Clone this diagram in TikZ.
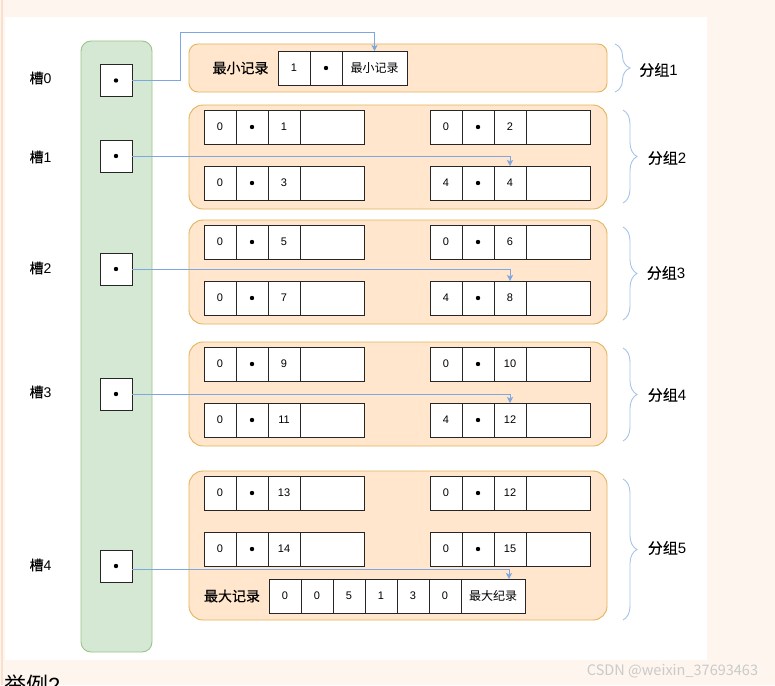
\documentclass[tikz,border=0pt]{standalone}
\usepackage{fontspec}
\setmainfont{Liberation Sans}
\newfontfamily\cjk[FakeBold=0.4]{Noto Sans CJK SC}
\newfontfamily\cjkthin{Noto Sans CJK SC}
\usetikzlibrary{arrows.meta,decorations.pathreplacing,calc}
\definecolor{bgpeach}{HTML}{FDF5EE}
\definecolor{bgstripe}{HTML}{FAE0CC}
\definecolor{grpfill}{HTML}{FFE6CC}
\definecolor{grpline}{HTML}{E3B45A}
\definecolor{slotfill}{HTML}{D5E8D4}
\definecolor{slotline}{HTML}{9AC48A}
\definecolor{arrowblue}{HTML}{7EA6E0}
\definecolor{bracecol}{HTML}{A9C4EB}
\definecolor{wmgray}{HTML}{CACACA}
\newcommand\recrow[6]{%
  \node[cell,minimum width=32pt] (#1a) at (#2,#3) {#4};
  \node[cell,minimum width=32pt] (#1b) at (#1a.north east) {};
  \fill (#1b.center) circle[radius=2.2pt];
  \node[cell,minimum width=32pt] (#1c) at (#1b.north east) {#5};
  \node[cell,minimum width=64pt] (#1d) at (#1c.north east) {#6};
}
\begin{document}
\begin{tikzpicture}[x=1pt,y=-1pt,
  cell/.style={draw=black!85,fill=white,line width=0.8pt,minimum height=34pt,inner sep=0pt,outer sep=0pt,anchor=north west,font=\fontsize{11}{13}\selectfont},
  grp/.style={draw=grpline,fill=grpfill,line width=0.9pt,rounded corners=14pt,anchor=north west,inner sep=0pt,outer sep=0pt},
  slotbox/.style={draw=black!85,fill=white,line width=0.8pt,minimum width=32pt,minimum height=32pt,inner sep=0pt},
  lab/.style={font=\fontsize{14}{16}\selectfont,inner sep=0pt},
  glab/.style={font=\fontsize{15}{17}\selectfont,inner sep=0pt},
  arr/.style={draw=arrowblue,line width=0.8pt,-{Stealth[length=6pt,width=6pt,inset=1.5pt]}},
  brc/.style={draw=bracecol,line width=0.9pt,decorate,decoration={brace,amplitude=14pt}}]
\useasboundingbox (0,0) rectangle (775,685);
\begin{scope}
\clip (0,0) rectangle (775,685);
\fill[bgpeach] (0,0) rectangle (775,685);
\draw[bgstripe,line width=2pt] (2,0) -- (2,685);
\fill[white] (5,17) rectangle (707,660);
% slot column
\draw[slotline,fill=slotfill,line width=0.9pt,rounded corners=10pt] (81,41) rectangle (152,652);
% groups
\node[grp,minimum width=418pt,minimum height=48pt,rounded corners=9pt] (g1) at (189,44) {};
\node[grp,minimum width=418pt,minimum height=104pt] (g2) at (189,105) {};
\node[grp,minimum width=418pt,minimum height=104pt] (g3) at (189,220) {};
\node[grp,minimum width=418pt,minimum height=104pt] (g4) at (189,342) {};
\node[grp,minimum width=418pt,minimum height=149pt] (g5) at (189,471) {};
% group 1 content
\node[lab] (minlab) at (240.5,68) {\cjk 最小记录};
\node[cell,minimum width=32pt] (m1) at (278,51) {1};
\node[cell,minimum width=32pt] (m2) at (m1.north east) {};
\fill (m2.center) circle[radius=2.2pt];
\node[cell,minimum width=65pt,font=\fontsize{12}{14}\selectfont] (m3) at (m2.north east) {\cjkthin 最小记录};
% group 2
\recrow{bA}{204}{110}{0}{1}{}
\recrow{bB}{430}{110}{0}{2}{}
\recrow{bC}{204}{166}{0}{3}{}
\recrow{bD}{430}{166}{4}{4}{}
% group 3
\recrow{cA}{204}{225}{0}{5}{}
\recrow{cB}{430}{225}{0}{6}{}
\recrow{cC}{204}{281}{0}{7}{}
\recrow{cD}{430}{281}{4}{8}{}
% group 4
\recrow{dA}{204}{347}{0}{9}{}
\recrow{dB}{430}{347}{0}{10}{}
\recrow{dC}{204}{403}{0}{11}{}
\recrow{dD}{430}{403}{4}{12}{}
% group 5
\recrow{eA}{204}{476}{0}{13}{}
\recrow{eB}{430}{476}{0}{12}{}
\recrow{eC}{204}{532}{0}{14}{}
\recrow{eD}{430}{532}{0}{15}{}
\node[lab] (maxlab) at (232,596) {\cjk 最大记录};
\node[cell,minimum width=32pt] (x1) at (269,579) {0};
\node[cell,minimum width=32pt] (x2) at (x1.north east) {0};
\node[cell,minimum width=32pt] (x3) at (x2.north east) {5};
\node[cell,minimum width=32pt] (x4) at (x3.north east) {1};
\node[cell,minimum width=32pt] (x5) at (x4.north east) {3};
\node[cell,minimum width=32pt] (x6) at (x5.north east) {0};
\node[cell,minimum width=64pt,font=\fontsize{12}{14}\selectfont] (x7) at (x6.north east) {\cjkthin 最大纪录};
% slots
\foreach \n/\y in {0/80.5,1/156,2/269,3/394,4/566}{
  \node[slotbox] (s\n) at (116,\y) {};
  \fill (s\n.center) circle[radius=2.2pt];
}
\node[lab] (l0) at (40.5,78) {{\cjk 槽}0};
\node[lab] (l1) at (40.5,157) {{\cjk 槽}1};
\node[lab] (l2) at (40.5,268) {{\cjk 槽}2};
\node[lab] (l3) at (40.5,392) {{\cjk 槽}3};
\node[lab] (l4) at (40.5,565) {{\cjk 槽}4};
% arrows
\draw[arr] (s0.east) -- ++(48,0) |- ($(m3.north)+(0,-19)$) -- (m3.north);
\draw[arr] (s1.east) -| (bDc.north);
\draw[arr] (s2.east) -| (cDc.north);
\draw[arr] (s3.east) -| (dDc.north);
\draw[arr] ($(s4.east)+(0,3.5)$) -| ($(x7.north)+(16,0)$);
% braces
\draw[brc,decoration={amplitude=15pt}] (615,44) -- (615,92);
\draw[brc] (623,110) -- (623,203);
\draw[brc] (623,227) -- (623,320);
\draw[brc] (623,348) -- (623,441);
\draw[brc] (623,479) -- (623,620);
\node[glab] (k1) at (658.5,70) {{\cjk 分组}1};
\node[glab] (k2) at (667,158) {{\cjk 分组}2};
\node[glab] (k3) at (666,273) {{\cjk 分组}3};
\node[glab] (k4) at (667,395) {{\cjk 分组}4};
\node[glab] (k5) at (667,548) {{\cjk 分组}5};
% watermark and cut caption
\node[font=\fontsize{14.5}{16}\selectfont\cjkthin,text=wmgray,inner sep=0pt] (wm) at (672.5,671) {CSDN @weixin\_37693463};
\node[font=\fontsize{22}{26}\selectfont,anchor=north west,inner sep=0pt] (cap) at (4,675) {{\cjkthin 举例}2};
\end{scope}
\end{tikzpicture}
\end{document}
